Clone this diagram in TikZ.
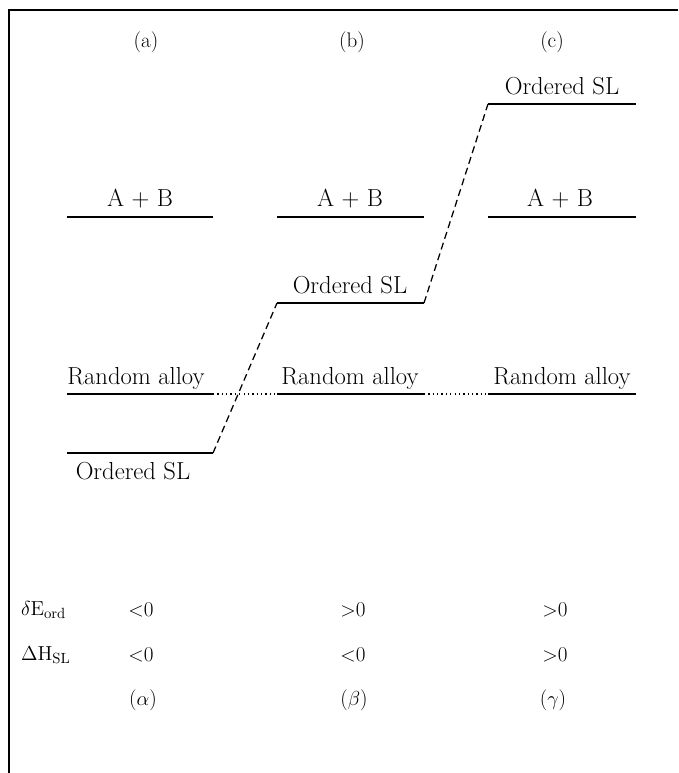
\documentclass[tikz,border=0pt]{standalone}
\usepackage{amsmath,amssymb}
\usepackage{xcolor}
\usepackage{tikz}
\usetikzlibrary{positioning,calc}

\begin{document}
\begin{tikzpicture}[x=0.025cm, y=-0.025cm, line width=0.85pt,
  level/.style={line width=1.4pt},
  lvl/.style={font=\fontsize{17.5}{20}\selectfont, inner sep=1pt},
  tag/.style={font=\fontsize{15}{18}\selectfont, inner sep=1pt},
  jump/.style={line width=0.9pt, dash pattern=on 5pt off 3pt},
  gap/.style={line width=0.9pt, dash pattern=on 0.9pt off 2.2pt}]

\useasboundingbox (0,0) rectangle (678,773);
\draw[line width=1.2pt] (678,10) -- (9,10) -- (9,773);

% column heads
\node[tag] (ha) at (146,42) {(a)};
\node[tag] (hb) at (352,42) {(b)};
\node[tag] (hc) at (552,42) {(c)};

% A + B
\draw[level] (67,217) -- (213,217);
\draw[level] (277,217) -- (424,217);
\draw[level] (488,217) -- (636,217);
\node[lvl] (aba) at (140,199) {A + B};
\node[lvl] (abb) at (350,199) {A + B};
\node[lvl] (abc) at (560,199) {A + B};

% ordered SL
\coordinate (osa-l) at (67,453);  \coordinate (osa-r) at (213,453);
\coordinate (osb-l) at (277,303); \coordinate (osb-r) at (424,303);
\coordinate (osc-l) at (488,104); \coordinate (osc-r) at (636,104);
\draw[level] (osa-l) -- (osa-r);
\draw[level] (osb-l) -- (osb-r);
\draw[level] (osc-l) -- (osc-r);
\node[lvl] (osa) at (133,471) {Ordered SL};
\node[lvl] (osb) at (350,285) {Ordered SL};
\node[lvl] (osc) at (562,86) {Ordered SL};
\draw[jump] (osa-r) -- (osb-l);
\draw[jump] (osb-r) -- (osc-l);

% random alloy
\coordinate (raa-l) at (67,394);  \coordinate (raa-r) at (213,394);
\coordinate (rab-l) at (277,394); \coordinate (rab-r) at (424,394);
\coordinate (rac-l) at (488,394); \coordinate (rac-r) at (636,394);
\draw[level] (raa-l) -- (raa-r);
\draw[level] (rab-l) -- (rab-r);
\draw[level] (rac-l) -- (rac-r);
\draw[gap] (raa-r) -- (rab-l);
\draw[gap] (rab-r) -- (rac-l);
\node[lvl] (raa) at (136,378) {Random alloy};
\node[lvl] (rab) at (350,378) {Random alloy};
\node[lvl] (rac) at (562,378) {Random alloy};

% signs
\node[tag, anchor=west] (de) at (19,610) {$\delta\mathrm{E}_{\text{ord}}$};
\node[tag] (dea) at (141,610) {$<$0};
\node[tag] (deb) at (353,610) {$>$0};
\node[tag] (dec) at (555,610) {$>$0};
\node[tag, anchor=west] (dh) at (19,655) {$\Delta\mathrm{H}_{\text{SL}}$};
\node[tag] (dha) at (141,655) {$<$0};
\node[tag] (dhb) at (353,655) {$<$0};
\node[tag] (dhc) at (555,655) {$>$0};

\node[tag] (ga) at (143,700) {($\alpha$)};
\node[tag] (gb) at (354,700) {($\beta$)};
\node[tag] (gc) at (553,700) {($\gamma$)};
\end{tikzpicture}
\end{document}
